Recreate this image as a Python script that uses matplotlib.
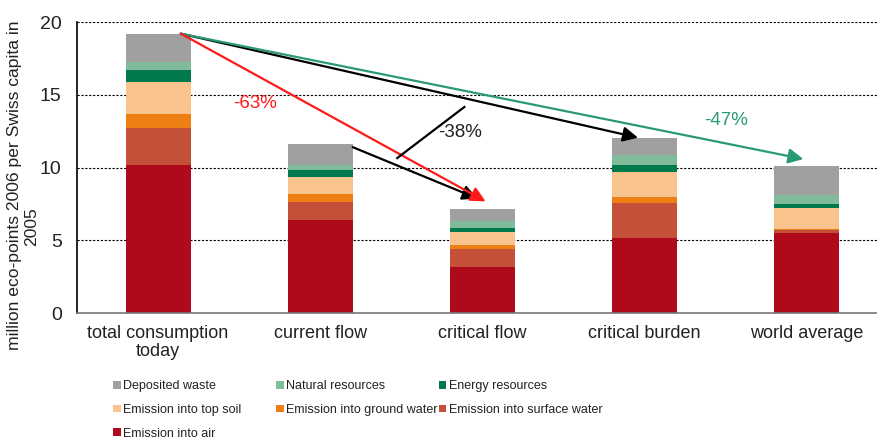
import matplotlib.pyplot as plt
import numpy as np
from matplotlib.patches import Patch

plt.rcParams["font.family"] = ["Liberation Sans", "DejaVu Sans"]

categories = ["total consumption\ntoday", "current flow", "critical flow",
              "critical burden", "world average"]

# stacked from bottom to top
series_names = ["Emission into air", "Emission into surface water",
                "Emission into ground water", "Emission into top soil",
                "Energy resources", "Natural resources", "Deposited waste"]
emission_air = [10.2, 6.4, 3.16, 5.13, 5.5]
emission_surface_water = [2.5, 1.23, 1.24, 2.43, 0.2]
emission_ground_water = [0.95, 0.57, 0.25, 0.44, 0.07]
emission_top_soil = [2.25, 1.15, 0.95, 1.7, 1.47]
energy_resources = [0.8, 0.48, 0.24, 0.45, 0.23]
natural_resources = [0.55, 0.37, 0.46, 0.69, 0.63]
deposited_waste = [1.95, 1.4, 0.87, 1.16, 1.98]

colors = ["#AF0A1B", "#C5503A", "#EE7F14", "#F9C38E",
          "#007A4D", "#80BC9C", "#A0A0A0"]

series = [emission_air, emission_surface_water, emission_ground_water,
          emission_top_soil, energy_resources, natural_resources,
          deposited_waste]

fig = plt.figure(figsize=(8.78, 4.47), dpi=100)
ax = fig.add_axes([77 / 878, 134 / 447, (878 - 77) / 878, 291 / 447])

x = np.arange(len(categories))
bottom = np.zeros(len(categories))
for vals, col in zip(series, colors):
    ax.bar(x, vals, 0.4, bottom=bottom, color=col, edgecolor="none", zorder=2)
    bottom += np.array(vals)
totals = bottom

ax.set_xlim(-0.5, 4.44)
ax.set_ylim(0, 20)
ax.set_yticks([0, 5, 10, 15, 20])
for yv in [5, 10, 15, 20]:
    ax.axhline(yv, color="black", lw=0.8, ls=(0, (2, 1.5)), zorder=1)

ax.set_xticks(x)
ax.set_xticklabels(categories, fontsize=13, color="#222222", linespacing=1.0)
ax.tick_params(axis="both", length=0, colors="#222222")
ax.tick_params(axis="y", pad=11, labelsize=14)
ax.tick_params(axis="x", pad=9)
ax.spines["top"].set_visible(False)
ax.spines["right"].set_visible(False)
ax.spines["left"].set_linewidth(1.2)
ax.spines["bottom"].set_color("#777777")
ax.spines["bottom"].set_linewidth(1.2)

# y label, wrapped as in the original (second line sits lower)
fig.text(15 / 878, 1 - 185 / 447, "million eco-points 2006 per Swiss capita in",
         rotation=90, fontsize=12.6, color="#222222", ha="center", va="center")
fig.text(32 / 878, 1 - 227 / 447, "2005",
         rotation=90, fontsize=12.6, color="#222222", ha="center", va="center")

# reduction arrows
start = (0.14, totals[0])


def arrow(p0, p1, col):
    ax.annotate("", xy=p1, xytext=p0, zorder=4,
                arrowprops=dict(arrowstyle="-|>,head_length=0.9,head_width=0.45",
                                lw=1.6, color=col, shrinkA=0, shrinkB=0))


arrow(start, (2.96, totals[3] + 0.05), "black")
arrow((1.2, totals[1] - 0.2), (1.97, totals[2] + 0.7), "black")
arrow(start, (3.98, totals[4] + 0.5), "#2A9A74")
arrow(start, (2.02, totals[2] + 0.5), "#FF1A1A")
ax.plot([1.475, 1.889], [10.65, 14.16], color="black", lw=1.6, zorder=4)

ax.text(0.6, 14.4, "-63%", color="#FF1A1A", fontsize=13.5, ha="center", va="center")
ax.text(1.86, 12.4, "-38%", color="#222222", fontsize=13.5, ha="center", va="center")
ax.text(3.5, 13.2, "-47%", color="#2A9A74", fontsize=13.5, ha="center", va="center")

# legend: three fixed-width columns, row-major like the original
names_top = series_names[::-1]
cols_top = colors[::-1]
columns = [[0, 3, 6], [1, 4], [2, 5]]
col_x = [113, 276, 439]
for idx, cx in zip(columns, col_x):
    handles = [Patch(facecolor=cols_top[i], edgecolor="none") for i in idx]
    labels = [names_top[i] for i in idx]
    fig.legend(handles, labels, loc="upper left",
               bbox_to_anchor=(cx / 878, 1 - 380 / 447), frameon=False,
               fontsize=9, handlelength=0.6, handleheight=0.6,
               handletextpad=0.2, labelspacing=0.95, borderpad=0,
               borderaxespad=0, labelcolor="#222222")

fig.savefig("out.png", dpi=100)
